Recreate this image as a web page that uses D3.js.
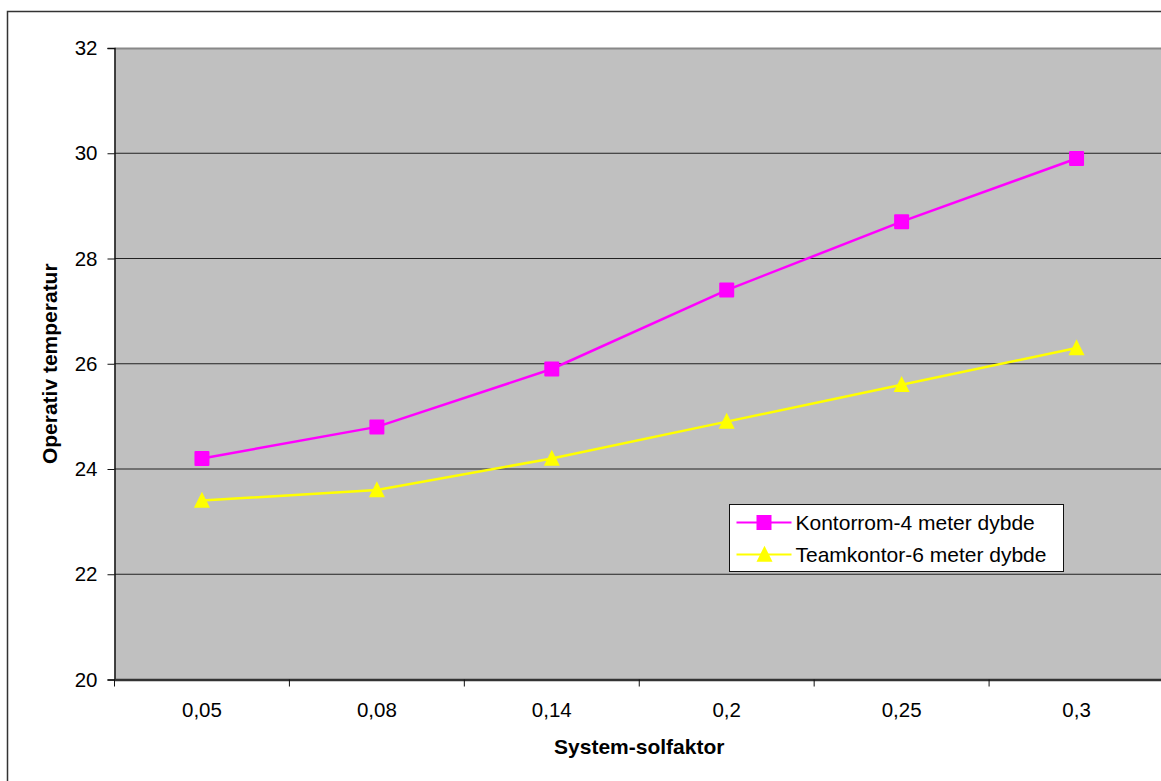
<!DOCTYPE html>
<html><head><meta charset="utf-8">
<script src="https://cdn.jsdelivr.net/npm/d3@7"></script>
<style>body{margin:0;background:#fff;}svg{display:block;}</style>
</head><body>
<script>
const categories = ["0,05","0,08","0,14","0,2","0,25","0,3"];
const kontorrom = [24.2, 24.8, 25.9, 27.4, 28.7, 29.9];
const teamkontor = [23.4, 23.6, 24.2, 24.9, 25.6, 26.3];
const seriesNames = ["Kontorrom-4 meter dybde","Teamkontor-6 meter dybde"];
const yTicks = [20,22,24,26,28,30,32];

const W=1161,H=781;
const svg=d3.select("body").append("svg").attr("width",W).attr("height",H);
const font="Arial, 'Liberation Sans', sans-serif";
svg.append("rect").attr("x",7.5).attr("y",11.5).attr("width",1200).attr("height",1000)
  .attr("fill","#fff").attr("stroke","#333").attr("stroke-width",1.5);

const L=114.5,R=1164,T=48,B=679.5;
const x=d3.scaleBand().domain(categories).range([L,R]).padding(0);
const y=d3.scaleLinear().domain([20,32]).range([B,T]);

svg.append("rect").attr("x",L).attr("y",T).attr("width",R-L).attr("height",B-T).attr("fill","#c0c0c0");
// gridlines
svg.append("g").selectAll("line").data(yTicks.slice(1,-1)).join("line")
  .attr("x1",L).attr("x2",R).attr("y1",d=>y(d)).attr("y2",d=>y(d))
  .attr("stroke","#222").attr("stroke-width",1);
svg.append("line").attr("x1",L).attr("x2",R).attr("y1",T+0.5).attr("y2",T+0.5).attr("stroke","#888").attr("stroke-width",2);

// y axis
const ya=svg.append("g").attr("transform",`translate(${L},0)`)
  .call(d3.axisLeft(y).tickValues(yTicks).tickSize(7).tickPadding(10).tickFormat(d3.format("d")));
ya.attr("font-size",null).attr("font-family",null);
ya.select(".domain").attr("stroke","#111").attr("stroke-width",1.5);
ya.selectAll(".tick line").attr("stroke","#111");
ya.selectAll("text").style("font-family",font).style("font-size","20.5px").attr("fill","#000");

// x axis
const xa=svg.append("g").attr("transform",`translate(0,${B})`)
  .call(d3.axisBottom(x).tickSize(0).tickPadding(23));
xa.attr("font-size",null).attr("font-family",null);
xa.select(".domain").attr("stroke","#333").attr("stroke-width",2.5);
xa.selectAll("text").style("font-family",font).style("font-size","20.5px").attr("fill","#000");
// category boundary ticks
svg.append("g").selectAll("line").data(categories).join("line")
  .attr("x1",d=>x(d)).attr("x2",d=>x(d)).attr("y1",B).attr("y2",B+7)
  .attr("stroke","#111").attr("stroke-width",1);

// titles
svg.append("text").attr("x",(L+R)/2).attr("y",754).attr("text-anchor","middle")
  .style("font-family",font).attr("font-weight","bold").style("font-size","21px").text("System-solfaktor");
svg.append("text").attr("transform",`translate(57,${(T+B)/2}) rotate(-90)`).attr("text-anchor","middle")
  .style("font-family",font).attr("font-weight","bold").style("font-size","21px").text("Operativ temperatur");

const cx=d=>x(d)+x.bandwidth()/2;
const line=d3.line().x((d,i)=>cx(categories[i])).y(d=>y(d));
svg.append("path").datum(kontorrom).attr("d",line).attr("fill","none").attr("stroke","#ff00ff").attr("stroke-width",2.5);
svg.append("path").datum(teamkontor).attr("d",line).attr("fill","none").attr("stroke","#ffff00").attr("stroke-width",2.5);

const tri=(s)=>`M0,${-s*0.55}L${s/2},${s*0.45}L${-s/2},${s*0.45}Z`;
svg.append("g").selectAll("rect").data(kontorrom).join("rect")
  .attr("x",(d,i)=>cx(categories[i])-7.5).attr("y",d=>y(d)-7.5).attr("width",15).attr("height",15)
  .attr("fill","#ff00ff").attr("rx",1);
svg.append("g").selectAll("path").data(teamkontor).join("path")
  .attr("transform",(d,i)=>`translate(${cx(categories[i])},${y(d)})`).attr("d",tri(16))
  .attr("fill","#ffff00");

// legend
const lg=svg.append("g").attr("transform","translate(729.5,504.5)");
lg.append("rect").attr("width",334).attr("height",67).attr("fill","#fff").attr("stroke","#111").attr("stroke-width",1);
const rows=[{c:"#ff00ff",sym:"sq"},{c:"#ffff00",sym:"tri"}];
rows.forEach((r,i)=>{
  const yy=18+i*32;
  lg.append("line").attr("x1",7).attr("x2",62).attr("y1",yy).attr("y2",yy).attr("stroke",r.c).attr("stroke-width",2);
  if(r.sym==="sq") lg.append("rect").attr("x",27).attr("y",yy-7.5).attr("width",15).attr("height",15).attr("fill",r.c);
  else lg.append("path").attr("transform",`translate(35,${yy})`).attr("d",tri(16)).attr("fill",r.c);
  lg.append("text").attr("x",66).attr("y",yy+7).style("font-family",font).style("font-size","21px").text(seriesNames[i]);
});
</script>
</body></html>
